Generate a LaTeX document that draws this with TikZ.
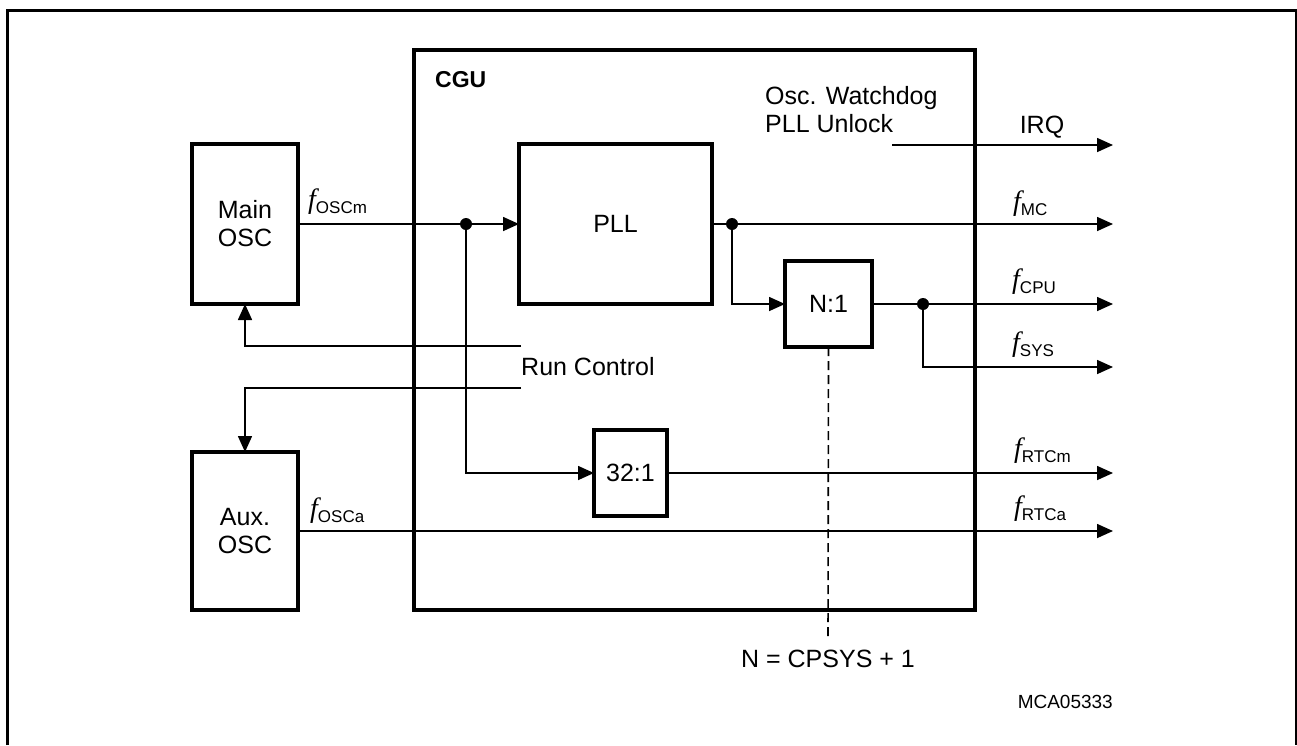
\documentclass[tikz,border=0pt]{standalone}
\usepackage{fontspec}
\setmainfont{Liberation Sans}
\newfontfamily\sigfont{Liberation Serif}
\usetikzlibrary{positioning, arrows.meta}

\newcommand{\fsig}[1]{{\sigfont\itshape\fontsize{28}{28}\selectfont f}\raisebox{-5pt}{\fontsize{17}{17}\selectfont #1}}

\begin{document}
\begin{tikzpicture}[
        x=1pt, y=-1pt,
        font=\fontsize{25}{28}\selectfont,
        block/.style={
            draw=black, line width=4pt,
            outer sep=0pt, inner sep=0pt,
            align=center
        },
        wire/.style={line width=1.6pt},
        arrow/.style={wire, -{Triangle[length=16pt,width=14pt]}},
        siglabel/.style={anchor=base west, inner sep=0pt},
        dot/.style={circle, fill=black, inner sep=0pt, minimum size=12pt}
    ]
        \useasboundingbox (0,0) rectangle (1297,745);
        \draw[line width=3pt] (7,745) -- (7,10) -- (1296,10) -- (1296,745);

        % oscillators
        \node[block, minimum width=106pt, minimum height=160pt] (mainosc) at (245,224) {Main\\OSC};
        \node[block, minimum width=106pt, minimum height=158pt, below=148pt of mainosc] (auxosc) {Aux.\\OSC};

        % clock generation unit
        \node[block, minimum width=561pt, minimum height=560pt] (cgu) at (694.5,330) {};
        \node[anchor=base west, inner sep=0pt, font=\fontsize{23}{23}\selectfont\bfseries] (cgulabel) at (435,87) {CGU};

        \node[block, minimum width=193pt, minimum height=160pt] (pll) at (615.5,224) {PLL};
        \node[block, minimum width=87pt, minimum height=86pt] (ndiv) at (828.5,304) {N:1};
        \node[block, minimum width=73pt, minimum height=86pt] (rtcdiv) at (630.5,473) {32:1};

        \node[anchor=north west, inner sep=0pt, align=left, font=\fontsize{25}{28}\selectfont] (wdog) at (765,86) {Osc. Watchdog\\PLL Unlock};
        \node[anchor=west, inner sep=0pt, minimum height=42pt] (runctl) at (521,367) {Run Control};
        \node[anchor=base, inner sep=0pt] (ncalc) at (828,667) {N = CPSYS + 1};
        \node[anchor=base east, inner sep=0pt, font=\fontsize{19}{19}\selectfont] (figid) at (1113,708) {MCA05333};

        % branch points and outputs
        \coordinate (split1) at (466,224);
        \coordinate (split2) at (732,224);
        \coordinate (split3) at (923,304);
        \coordinate (irqsrc) at (892,145);
        \coordinate (outirq) at (1113,145);
        \coordinate (outmc) at (1113,224);
        \coordinate (outcpu) at (1113,304);
        \coordinate (outsys) at (1113,367);
        \coordinate (outrtcm) at (1113,473);
        \coordinate (outrtca) at (1113,531);

        \draw[arrow] (mainosc.east) -- (pll.west);
        \draw[arrow] (split1) |- (rtcdiv.west);
        \draw[arrow] (pll.east) -- (outmc);
        \draw[arrow] (split2) |- (ndiv.west);
        \draw[arrow] (ndiv.east) -- (outcpu);
        \draw[arrow] (split3) |- (outsys);
        \draw[arrow] (rtcdiv.east) -- (outrtcm);
        \draw[arrow] (auxosc.east) -- (outrtca);
        \draw[arrow] (irqsrc) -- (outirq);
        \draw[arrow] (runctl.north west) -| (mainosc.south);
        \draw[arrow] (runctl.south west) -| (auxosc.north);
        \draw[wire, dash pattern=on 9pt off 5pt] (ndiv.south) -- ([yshift=10pt]ncalc.north);

        \node[dot] at (split1) {};
        \node[dot] at (split2) {};
        \node[dot] at (split3) {};

        % signal names
        \node[siglabel] (lbloscm) at (308,208) {\fsig{OSCm}};
        \node[siglabel] (lblosca) at (310,517) {\fsig{OSCa}};
        \node[anchor=base, inner sep=0pt] (lblirq) at (1042,133) {IRQ};
        \node[siglabel] (lblmc) at (1013,210) {\fsig{MC}};
        \node[siglabel] (lblcpu) at (1012,288) {\fsig{CPU}};
        \node[siglabel] (lblsys) at (1012,351) {\fsig{SYS}};
        \node[siglabel] (lblrtcm) at (1014,457) {\fsig{RTCm}};
        \node[siglabel] (lblrtca) at (1014,515) {\fsig{RTCa}};
    \end{tikzpicture}
\end{document}
